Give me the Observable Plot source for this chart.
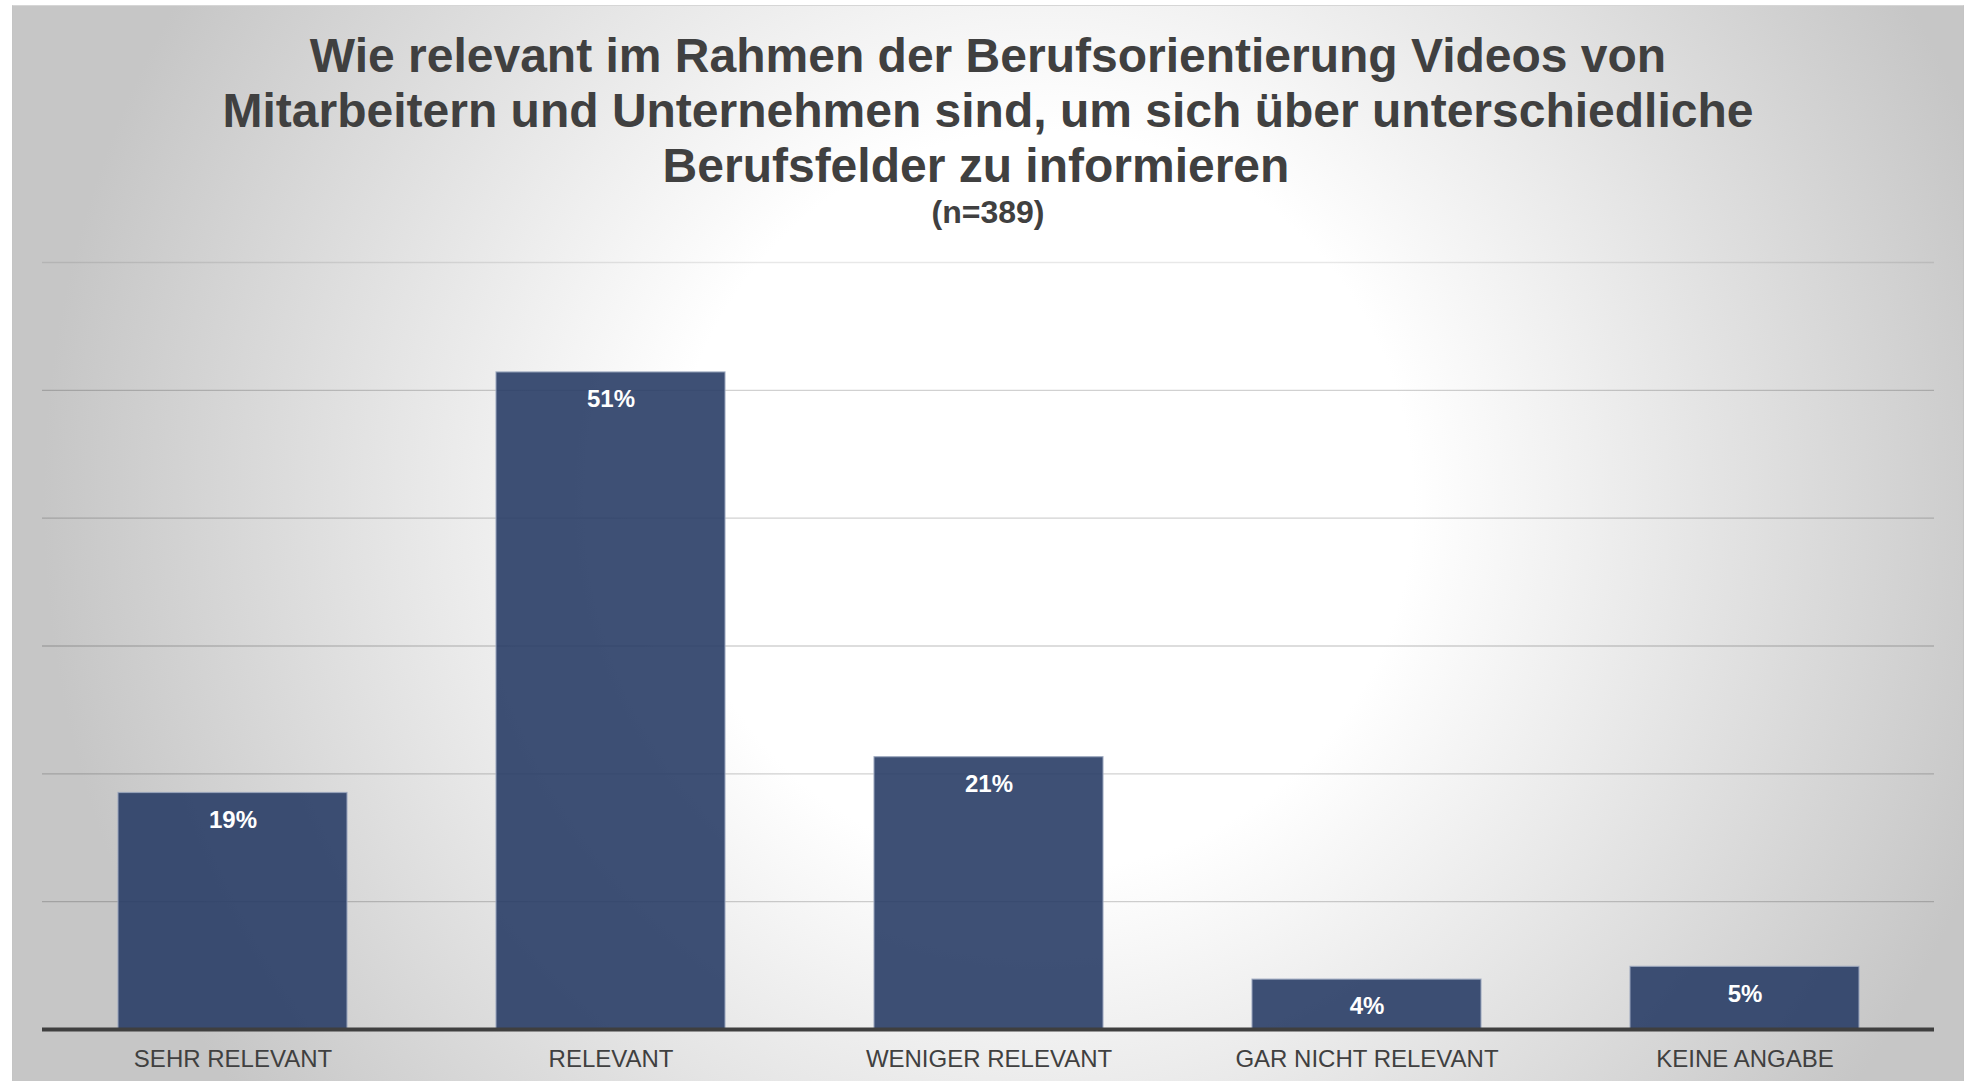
<!DOCTYPE html>
<html>
<head>
<meta charset="utf-8">
<script src="https://cdn.jsdelivr.net/npm/d3@7"></script>
<script src="https://cdn.jsdelivr.net/npm/@observablehq/plot@0.6"></script>
<style>
  html, body { margin: 0; padding: 0; background: #ffffff; }
  body { width: 1968px; height: 1081px; overflow: hidden; position: relative; font-family: "Liberation Sans", Arial, sans-serif; }
  #panel {
    position: absolute; left: 12px; top: 5px; width: 1952px; height: 1076px;
    background: radial-gradient(circle 1000px at 1030px 495px, #ffffff 0px, #ffffff 370px, #c6c6c6 1000px);
    border-top: 1px solid #d6d6d6; border-left: 1px solid #c4c4c4; border-right: 1px solid #c4c4c4;
    box-sizing: border-box;
  }
  #title {
    position: absolute; left: 0; width: 100%; top: 22px; margin: 0;
    text-align: center; font-weight: bold; font-size: 48px; line-height: 55px; color: #404040;
  }
  #title .l3 { position: relative; left: -12px; }
  #sub {
    position: absolute; left: 0; width: 100%; top: 188px; margin: 0;
    text-align: center; font-weight: bold; font-size: 32px; line-height: 37px; color: #404040;
  }
  #chart { position: absolute; left: -2px; top: 234px; }
</style>
</head>
<body>
<div id="panel">
  <div id="title">Wie relevant im Rahmen der Berufsorientierung Videos von<br>Mitarbeitern und Unternehmen sind, um sich über unterschiedliche<br><span class="l3">Berufsfelder zu informieren</span></div>
  <div id="sub">(n=389)</div>
  <div id="chart"></div>
</div>
<script>
const categories = ["SEHR RELEVANT", "RELEVANT", "WENIGER RELEVANT", "GAR NICHT RELEVANT", "KEINE ANGABE"];
const values = [18.5, 51.4, 21.3, 3.9, 4.9];
const valueLabels = ["19%", "51%", "21%", "4%", "5%"];
const gridTicks = [10, 20, 30, 40, 50];
const topTick = [60];

const data = categories.map((c, i) => ({category: c, value: values[i], label: valueLabels[i]}));

const chart = Plot.plot({
  width: 1952,
  height: 841,
  marginTop: 22,
  marginBottom: 52,
  marginLeft: 31,
  marginRight: 29,
  style: {background: "transparent", fontFamily: "'Liberation Sans', Arial, sans-serif", overflow: "visible"},
  x: {domain: categories, paddingInner: 0.395, paddingOuter: 0.1975, label: null},
  y: {domain: [0, 60], axis: null},
  marks: [
    Plot.ruleY(gridTicks, {stroke: "#000000", strokeOpacity: 0.18, strokeWidth: 1.4}),
    Plot.ruleY(topTick, {stroke: "#000000", strokeOpacity: 0.09, strokeWidth: 1.4}),
    Plot.barY(data, {x: "category", y: "value", fill: "#293d66", fillOpacity: 0.9, stroke: "#9aa6bd", strokeWidth: 1.2, strokeOpacity: 0.85}),
    Plot.ruleY([0], {stroke: "#3f3f3f", strokeWidth: 4}),
    Plot.axisX({tickSize: 0, tickPadding: 20, fontSize: 24, fill: "#404040", label: null}),
    Plot.text(data, {x: "category", y: "value", text: "label", dy: 27, fill: "#ffffff", fontWeight: "bold", fontSize: 24})
  ]
});
document.getElementById("chart").appendChild(chart);
</script>
</body>
</html>
